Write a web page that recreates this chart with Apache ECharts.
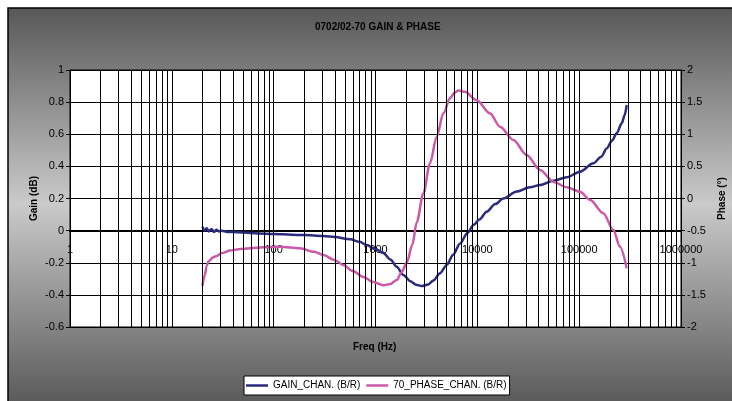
<!DOCTYPE html>
<html>
<head>
<meta charset="utf-8">
<script src="https://cdn.jsdelivr.net/npm/echarts@6/dist/echarts.min.js"></script>
<style>
html,body{margin:0;padding:0;background:#fff;}
#chart{width:732px;height:401px;}
</style>
</head>
<body>
<div id="chart"></div>
<script>
// ---- data ----
var gainFreq = [20,21,22,23,24.5,26,27.5,29,31,35,40,50,70,100,150,200,307,400,562,700,819,1000,1193,1400,1616,1876,2200,2500,2843,3300,3700,4300,5000,5800,6760,8000,9140,10500,12360,15000,18000,24400,32900,41300,55800,75400,102000,137700,165000,186400,210000,233600,261800,280000,293000];
var gainValues = [0.024,0.0,0.015,-0.005,0.01,-0.008,0.005,-0.005,0.0,-0.008,-0.009,-0.012,-0.018,-0.021,-0.025,-0.028,-0.034,-0.040,-0.054,-0.07,-0.09,-0.115,-0.14,-0.18,-0.225,-0.276,-0.315,-0.337,-0.345,-0.335,-0.31,-0.265,-0.214,-0.15,-0.08,-0.015,0.035,0.07,0.118,0.165,0.2,0.243,0.27,0.284,0.311,0.332,0.367,0.419,0.46,0.512,0.56,0.606,0.668,0.72,0.782];
var phaseFreq = [20,21,22,22.8,23.8,25,27.5,31,37.3,45,58.6,80,115,181,250,307,400,483,600,759,950,1193,1400,1616,1800,2027,2300,2540,2950,3430,3990,4640,5390,6000,6510,7570,9860,13300,16700,22600,30500,41300,55800,75400,102000,127700,172600,216500,251800,293000];
var phaseValues = [-1.36,-1.2,-1.05,-0.98,-0.96,-0.92,-0.895,-0.85,-0.81,-0.79,-0.775,-0.76,-0.75,-0.775,-0.83,-0.88,-0.96,-1.035,-1.13,-1.22,-1.30,-1.35,-1.33,-1.27,-1.15,-1.0,-0.72,-0.37,0.08,0.548,0.962,1.326,1.56,1.65,1.68,1.66,1.53,1.326,1.118,0.91,0.677,0.444,0.262,0.174,0.106,-0.02,-0.23,-0.49,-0.75,-1.087];
var seriesNames = ['GAIN_CHAN. (B/R)', '70_PHASE_CHAN. (B/R)'];
var decadeTicks = [1,10,100,1000,10000,100000,1000000];
var minorMultipliers = [2,3,4,5,6,7,8,9];
var gainRange = [-0.6, 1];

// ---- build ----
function pairs(xs, ys){ return xs.map(function(x,i){ return [x, ys[i]]; }); }
var gridLineVals = [];
decadeTicks.forEach(function(d, i){
  if (i < decadeTicks.length - 1) {
    minorMultipliers.forEach(function(m){ gridLineVals.push(d*m); });
  }
});
var FONT = 'Liberation Sans, Arial, sans-serif';
var GRID = {left: 70, right: 51, top: 70, bottom: 74};
var plotH = 401 - GRID.top - GRID.bottom;
// offset of the x axis from the plot bottom up to the gain zero line
var zeroOffset = -plotH * (0 - gainRange[0]) / (gainRange[1] - gainRange[0]);

var chart = echarts.init(document.getElementById('chart'), null, {renderer:'canvas'});
chart.setOption({
  animation: false,
  backgroundColor: '#ffffff',
  textStyle: {fontFamily: FONT},
  graphic: [{
    type: 'rect', z: -100, silent: true,
    shape: {x: 8, y: 8, width: 730, height: 400},
    style: {
      fill: new echarts.graphic.LinearGradient(0, 0, 0, 1, [
        {offset: 0, color: '#575757'},
        {offset: 0.49, color: '#cacaca'},
        {offset: 1, color: '#575757'}
      ]),
      stroke: '#000', lineWidth: 1.5
    }
  }],
  title: [
    {text: '0702/02-70 GAIN & PHASE', left: 315, top: 22, padding: 0,
     textStyle: {fontFamily: FONT, fontSize: 10, fontWeight: 'bold', color: '#000'}},
    {text: 'Freq (Hz)', left: 353, top: 342, padding: 0,
     textStyle: {fontFamily: FONT, fontSize: 10, fontWeight: 'bold', color: '#000'}}
  ],
  legend: {
    left: 244, top: 376,
    padding: [3, 3, 3, 2],
    itemGap: 6, itemWidth: 22, itemHeight: 2.5, icon: 'rect',
    backgroundColor: '#fff', borderColor: '#000', borderWidth: 1, borderRadius: 0,
    textStyle: {fontFamily: FONT, fontSize: 10, color: '#000', lineHeight: 13},
    data: seriesNames
  },
  grid: {
    left: GRID.left, right: GRID.right, top: GRID.top, bottom: GRID.bottom,
    outerBoundsMode: 'none', containLabel: false,
    show: true, backgroundColor: '#fff', borderColor: '#000', borderWidth: 1
  },
  xAxis: {
    type: 'log', logBase: 10, min: 1, max: 1000000, interval: 1,
    position: 'bottom', offset: zeroOffset,
    axisLine: {show: true, onZero: false, lineStyle: {color: '#000', width: 2}},
    axisTick: {show: false},
    axisLabel: {margin: 14, fontSize: 11, color: '#000', fontFamily: FONT,
      hideOverlap: false,
      formatter: function(v){ return String(Math.round(v)); }},
    splitLine: {show: true, lineStyle: {color: '#000', width: 1}}
  },
  yAxis: [
    {
      type: 'value', min: gainRange[0], max: gainRange[1], interval: 0.2,
      name: 'Gain (dB)', nameLocation: 'middle', nameRotate: 90, nameGap: 31,
      nameMoveOverlap: false,
      nameTextStyle: {fontFamily: FONT, fontSize: 10, fontWeight: 'bold', color: '#000'},
      axisLine: {show: true, lineStyle: {color: '#000', width: 1}},
      axisTick: {show: true, length: 4, lineStyle: {color: '#000'}},
      axisLabel: {margin: 6, fontSize: 11, color: '#000', fontFamily: FONT,
        formatter: function(v){ return String(Math.round(v*10)/10); }},
      splitLine: {show: true, lineStyle: {color: '#000', width: 1}}
    },
    {
      type: 'value', min: -2, max: 2, interval: 0.5, position: 'right',
      name: 'Phase (°)', nameLocation: 'middle', nameRotate: 90, nameGap: 36,
      nameMoveOverlap: false,
      nameTextStyle: {fontFamily: FONT, fontSize: 10, fontWeight: 'bold', color: '#000'},
      axisLine: {show: true, lineStyle: {color: '#000', width: 1}},
      axisTick: {show: true, length: 4, lineStyle: {color: '#000'}},
      axisLabel: {margin: 6, fontSize: 11, color: '#000', fontFamily: FONT,
        formatter: function(v){ return String(Math.round(v*10)/10); }},
      splitLine: {show: false}
    }
  ],
  series: [
    {
      name: 'gridlines', type: 'line', data: [], z: 1, silent: true,
      markLine: {
        silent: true, symbol: ['none','none'], label: {show: false},
        lineStyle: {color: '#000', width: 1, type: 'solid'},
        animation: false,
        data: gridLineVals.map(function(v){ return {xAxis: v}; })
      }
    },
    {
      name: seriesNames[0], type: 'line', yAxisIndex: 0, z: 3,
      data: pairs(gainFreq, gainValues),
      symbol: 'none', showSymbol: false, smooth: 0.3, smoothMonotone: 'x',
      lineStyle: {color: '#2b2b80', width: 2.5},
      itemStyle: {color: '#2b2b80'}
    },
    {
      name: seriesNames[1], type: 'line', yAxisIndex: 1, z: 3,
      data: pairs(phaseFreq, phaseValues),
      symbol: 'none', showSymbol: false, smooth: 0.3, smoothMonotone: 'x',
      lineStyle: {color: '#cc58aa', width: 2.5},
      itemStyle: {color: '#cc58aa'}
    }
  ]
});
</script>
</body>
</html>
